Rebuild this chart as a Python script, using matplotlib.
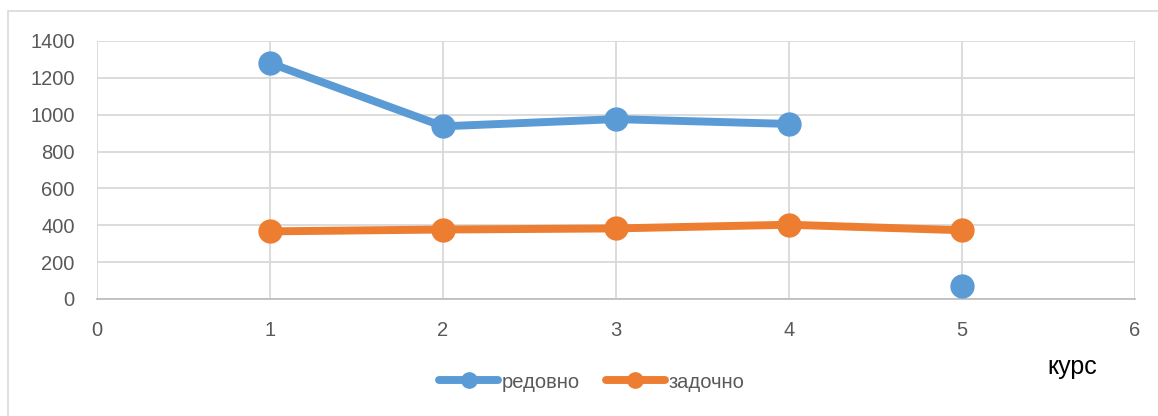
import matplotlib
matplotlib.use("Agg")

import matplotlib.pyplot as plt
import numpy as np
from matplotlib.lines import Line2D
from matplotlib.patches import Rectangle

# Данни
kurs = [1, 2, 3, 4, 5]
redovno = [1280, 937, 976, 950, 68]
zadochno = [367, 377, 383, 403, 373]
# петата точка на "редовно" не е свързана с линията
redovno_svarzani = 4

BLUE = "#5B9BD5"
ORANGE = "#ED7D31"
GRID = "#D9D9D9"
TEXT = "#595959"

plt.rcParams["font.family"] = ["Liberation Sans", "DejaVu Sans"]

fig = plt.figure(figsize=(11.58, 4.16), dpi=100)
ax = fig.add_axes([97 / 1158, 1 - 299 / 416, (1135 - 97) / 1158, (299 - 41) / 416])

# рамка около диаграмата
fig.patches.append(Rectangle((8 / 1158, -0.2), 1.1, 1.2 - 11 / 416, transform=fig.transFigure,
                             fill=False, edgecolor="#D9D9D9", linewidth=1.2))

ax.plot(kurs[:redovno_svarzani], redovno[:redovno_svarzani], color=BLUE, linewidth=5.7,
        marker="o", markersize=16.5, solid_capstyle="round", zorder=3)
ax.plot(kurs[redovno_svarzani:], redovno[redovno_svarzani:], color=BLUE, linestyle="none",
        marker="o", markersize=16.5, zorder=3)
ax.plot(kurs, zadochno, color=ORANGE, linewidth=5.7, marker="o", markersize=16.5,
        solid_capstyle="round", zorder=3)

ax.set_xlim(0, 6)
ax.set_ylim(0, 1400)
ax.set_xticks(np.arange(0, 7, 1))
ax.set_yticks(np.arange(0, 1401, 200))
ax.grid(True, color=GRID, linewidth=1.3)
ax.set_axisbelow(True)

for side in ["top", "right", "left"]:
    ax.spines[side].set_visible(False)
ax.spines["bottom"].set_color("#BFBFBF")
ax.spines["bottom"].set_linewidth(1.3)

ax.tick_params(axis="both", length=0, labelsize=14.5, labelcolor=TEXT)
ax.tick_params(axis="x", pad=16)
ax.tick_params(axis="y", pad=16)

fig.text(1072 / 1158, 1 - 367 / 416, "курс", fontsize=18, color="#000000",
         ha="center", va="center")

handles = [
    Line2D([], [], color=BLUE, linewidth=5.7, marker="o", markersize=11, solid_capstyle="round"),
    Line2D([], [], color=ORANGE, linewidth=5.7, marker="o", markersize=11, solid_capstyle="round"),
]
fig.legend(handles, ["редовно", "задочно"], loc="center", bbox_to_anchor=(592 / 1158, 1 - 382 / 416),
           ncol=2, frameon=False, fontsize=14.5, labelcolor=TEXT, handlelength=2.9,
           handletextpad=0.2, columnspacing=1.3)

fig.savefig("out.png", dpi=100)
